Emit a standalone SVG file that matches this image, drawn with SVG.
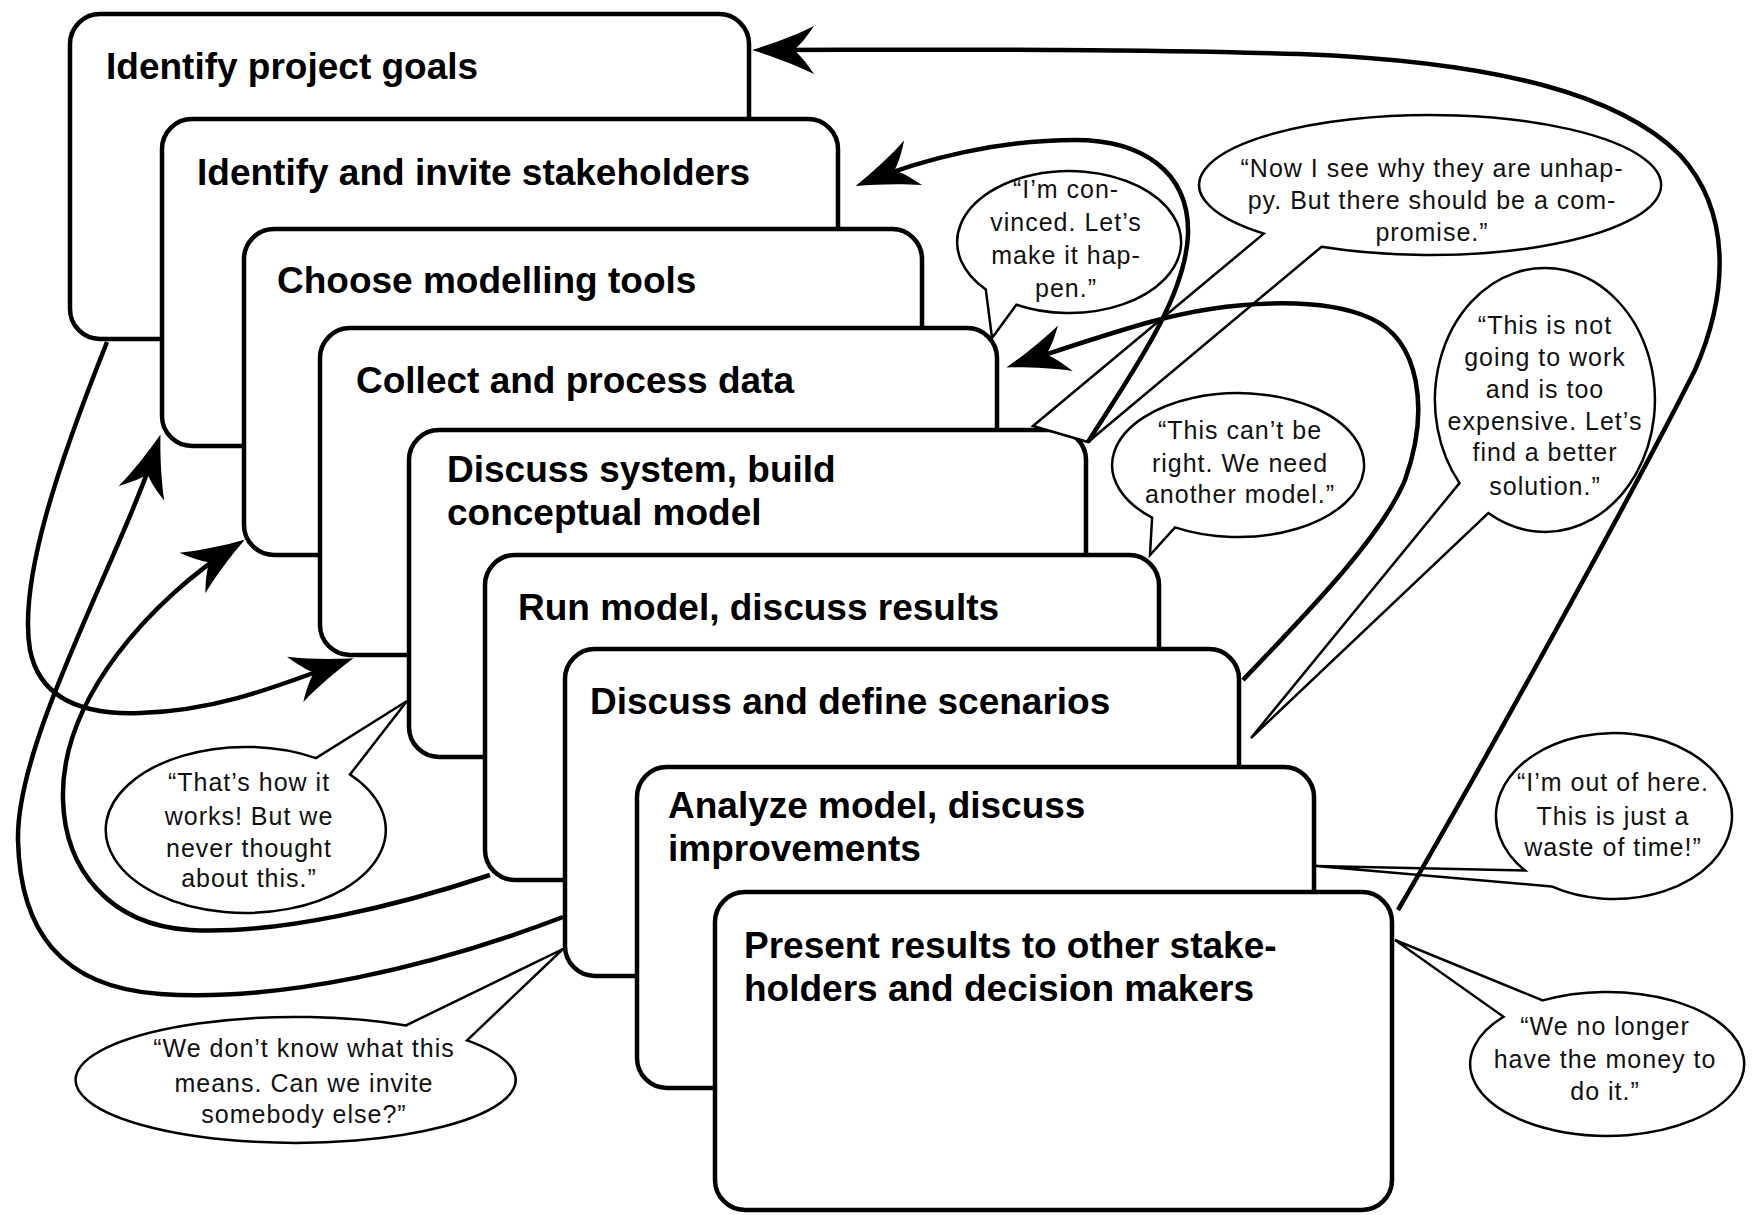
<svg xmlns="http://www.w3.org/2000/svg" width="1754" height="1215" viewBox="0 0 1754 1215">
<defs>
<style>
.box{fill:#fff;stroke:#000;stroke-width:4.5}
.title{font-family:"Liberation Sans",Arial,sans-serif;font-weight:bold;font-size:37px;fill:#000}
.bub{fill:#fff;stroke:#000;stroke-width:2.5;stroke-linejoin:miter}
.say{font-family:"Liberation Sans",Arial,sans-serif;font-size:25px;letter-spacing:1px;fill:#111;text-anchor:middle}
.conn{fill:none;stroke:#000;stroke-width:4.5;marker-end:url(#ah)}
</style>
<marker id="ah" markerUnits="userSpaceOnUse" viewBox="-60 -26 72 52" refX="0" refY="0" markerWidth="72" markerHeight="52" orient="auto" overflow="visible">
<path d="M8,0 C-12,-6 -36,-15 -54,-24 C-46,-12 -40,-5 -34,0 C-40,5 -46,12 -54,24 C-36,15 -12,6 8,0 Z" fill="#000"/>
</marker>
</defs>
<rect width="1754" height="1215" fill="#fff"/>

<g id="step1"><rect class="box" x="70" y="14" width="679" height="325" rx="30"/><text class="title" x="106" y="79">Identify project goals</text></g>
<g id="step2"><rect class="box" x="162" y="119" width="676" height="327" rx="30"/><text class="title" x="197" y="185">Identify and invite stakeholders</text></g>
<g id="step3"><rect class="box" x="244" y="229" width="678" height="326" rx="30"/><text class="title" x="277" y="293">Choose modelling tools</text></g>
<g id="step4"><rect class="box" x="320" y="328" width="677" height="327" rx="30"/><text class="title" x="356" y="393">Collect and process data</text></g>
<g id="step5"><rect class="box" x="409" y="430" width="677" height="327" rx="30"/><text class="title" x="447" y="482">Discuss system, build</text><text class="title" x="447" y="525">conceptual model</text></g>
<g id="step6"><rect class="box" x="485" y="555" width="674" height="325" rx="30"/><text class="title" x="518" y="620">Run model, discuss results</text></g>
<g id="step7"><rect class="box" x="565" y="649" width="674" height="327" rx="30"/><text class="title" x="590" y="714">Discuss and define scenarios</text></g>
<g id="step8"><rect class="box" x="637" y="767" width="677" height="321" rx="30"/><text class="title" x="668" y="818">Analyze model, discuss</text><text class="title" x="668" y="861">improvements</text></g>
<g id="step9"><rect class="box" x="715" y="892" width="677" height="318" rx="30"/><text class="title" x="744" y="958">Present results to other stake-</text><text class="title" x="744" y="1001">holders and decision makers</text></g>

<g id="bubble-convinced"><path class="bub" d="M1016.4,304.7 A112,71 0 1 0 985.8,289.5 L992,338 Z"/>
<text class="say" x="1066" y="198">“I’m con-</text><text class="say" x="1066" y="231">vinced. Let’s</text><text class="say" x="1066" y="264">make it hap-</text><text class="say" x="1066" y="297">pen.”</text></g>
<g id="bubble-compromise"><path class="bub" d="M1321.5,246.8 A231,70 0 1 0 1263.8,233.6 L1033,426 L1088,442 Z"/>
<text class="say" x="1432" y="177">“Now I see why they are unhap-</text><text class="say" x="1432" y="209">py. But there should be a com-</text><text class="say" x="1432" y="241">promise.”</text></g>
<g id="bubble-another-model"><path class="bub" d="M1175,527.4 A126,72 0 1 0 1152.1,517.7 L1150,555 Z"/>
<text class="say" x="1240" y="439">“This can’t be</text><text class="say" x="1240" y="472">right. We need</text><text class="say" x="1240" y="503">another model.”</text></g>
<g id="bubble-better-solution"><path class="bub" d="M1488.3,513.1 A110,132 0 1 0 1459.5,483.1 L1251,738 Z"/>
<text class="say" x="1545" y="334">“This is not</text><text class="say" x="1545" y="366">going to work</text><text class="say" x="1545" y="398">and is too</text><text class="say" x="1545" y="430">expensive. Let’s</text><text class="say" x="1545" y="461">find a better</text><text class="say" x="1545" y="495">solution.”</text></g>
<g id="bubble-out"><path class="bub" d="M1551.5,886.4 A118,83 0 1 0 1525,870.5 L1316,866 Z"/>
<text class="say" x="1613" y="791">“I’m out of here.</text><text class="say" x="1613" y="825">This is just a</text><text class="say" x="1613" y="856">waste of time!”</text></g>
<g id="bubble-money"><path class="bub" d="M1503.6,1016.8 A137,72 0 1 0 1542.7,1000.4 L1395,940 Z"/>
<text class="say" x="1605" y="1035">“We no longer</text><text class="say" x="1605" y="1068">have the money to</text><text class="say" x="1605" y="1100">do it.”</text></g>
<g id="bubble-how-it-works"><path class="bub" d="M316,758.1 A140,83 0 1 0 350,774.5 L407,701 Z"/>
<text class="say" x="249" y="791">“That’s how it</text><text class="say" x="249" y="825">works! But we</text><text class="say" x="249" y="857">never thought</text><text class="say" x="249" y="887">about this.”</text></g>
<g id="bubble-invite"><path class="bub" d="M406,1025.4 A220,63 0 1 0 467,1040.4 L563,949 Z"/>
<text class="say" x="304" y="1057">“We don’t know what this</text><text class="say" x="304" y="1092">means. Can we invite</text><text class="say" x="304" y="1123">somebody else?”</text></g>

<g id="connectors">
<path class="conn" d="M1398,910 C1480,770 1640,480 1695,370 C1730,290 1730,210 1680,155 C1620,95 1500,62 1300,54 C1100,48 900,50 760,50"/>
<path class="conn" d="M1088,442 C1130,375 1185,300 1188,235 C1190,170 1140,140 1075,140 C1000,140 925,158 863,183"/>
<path class="conn" d="M1243,680 C1300,620 1380,540 1405,480 C1430,410 1420,340 1370,318 C1320,296 1230,300 1150,322 C1100,336 1060,350 1014,365"/>
<path class="conn" d="M107,342 C60,460 18,580 30,650 C40,700 85,715 140,713 C220,711 285,683 346,661"/>
<path class="conn" d="M563,917 C430,968 280,1002 160,994 C60,987 20,930 18,840 C16,740 120,560 158,442"/>
<path class="conn" d="M490,875 C400,905 280,935 190,930 C110,925 65,870 63,800 C60,700 150,600 238,544"/>
</g>
</svg>
